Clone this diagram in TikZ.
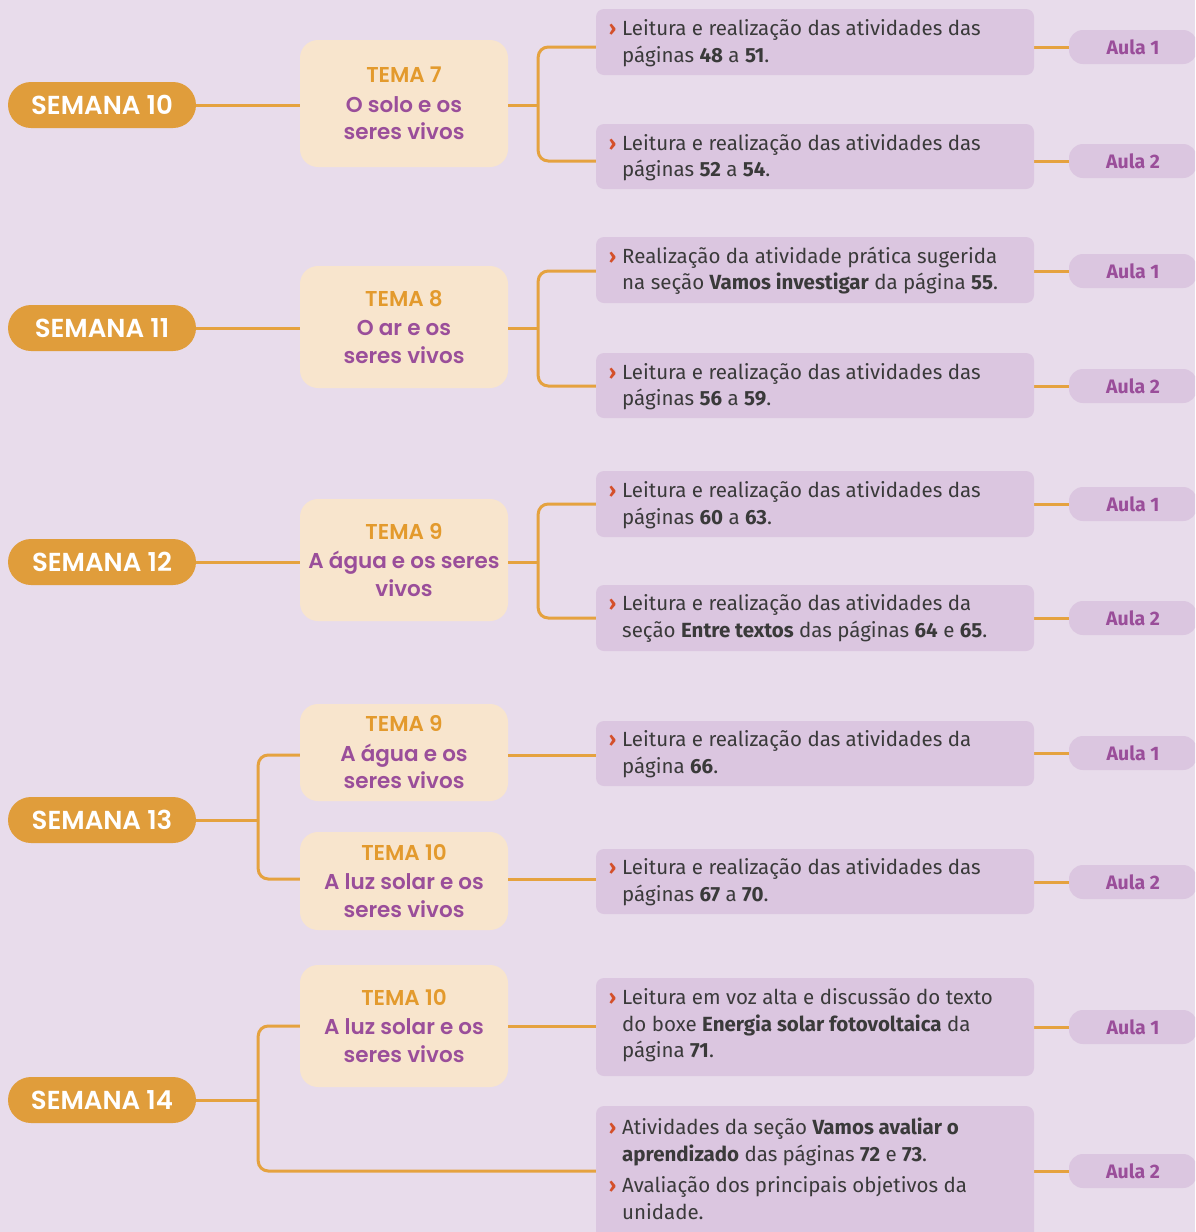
\documentclass[tikz,border=0pt]{standalone}
\usepackage{fontspec}
\setmainfont{Fira Sans}
\newfontfamily\popfont{Poppins}[BoldFont={Poppins SemiBold}]
\usetikzlibrary{calc}
\definecolor{bgc}{HTML}{E8DCEB}
\definecolor{boxc}{HTML}{DBC6E0}
\definecolor{temac}{HTML}{F8E5CD}
\definecolor{semc}{HTML}{E09D3B}
\definecolor{linec}{HTML}{E5A23F}
\definecolor{orangetxt}{HTML}{E39A2D}
\definecolor{purp}{HTML}{9A4E9A}
\definecolor{textc}{HTML}{3A3A3A}
\definecolor{bulc}{HTML}{D4502A}
\newcommand{\bul}{\llap{\textcolor{bulc}{\bfseries ›}\hspace{6pt}}}
\begin{document}
\begin{tikzpicture}[x=1pt,y=-1pt,
  semana/.style={fill=semc, rounded corners=23pt, minimum width=188pt, minimum height=46pt, inner sep=0pt, text=white, font=\popfont\bfseries\fontsize{26}{27}\selectfont},
  tema/.style={fill=temac, rounded corners=18pt, minimum width=208pt, inner sep=0pt, align=center, text=purp, font=\popfont\bfseries\fontsize{21.5}{27.5}\selectfont},
  actbox/.style={fill=boxc, rounded corners=8pt, minimum width=438pt, inner sep=0pt},
  acttxt/.style={anchor=west, inner sep=0pt, align=left, text=textc, font=\fontsize{20.5}{26.5}\selectfont},
  aula/.style={fill=boxc, rounded corners=14pt, minimum width=128pt, minimum height=34pt, inner sep=0pt, text=purp, font=\bfseries\fontsize{19.5}{20}\selectfont},
  conn/.style={draw=linec, line width=3pt},
  branch/.style={conn, rounded corners=10pt}]
\fill[bgc] (0,0) rectangle (1195,1232);
\clip (0,0) rectangle (1195,1232);

% Semana nodes
\node[semana] (s10) at (102,105) {SEMANA 10};
\node[semana] (s11) at (102,328) {SEMANA 11};
\node[semana] (s12) at (102,562) {SEMANA 12};
\node[semana] (s13) at (102,820) {SEMANA 13};
\node[semana] (s14) at (102,1100) {SEMANA 14};

% Tema nodes
\node[tema, minimum height=127pt] (t7) at (404,103.5) {\textcolor{orangetxt}{TEMA 7}\\[2pt]O solo e os\\seres vivos};
\node[tema, minimum height=122pt] (t8) at (404,327) {\textcolor{orangetxt}{TEMA 8}\\[2pt]O ar e os\\seres vivos};
\node[tema, minimum height=122pt] (t9a) at (404,560) {\textcolor{orangetxt}{TEMA 9}\\[2pt]A água e os seres\\vivos};
\node[tema, minimum height=97pt] (t9b) at (404,752.5) {\textcolor{orangetxt}{TEMA 9}\\[2pt]A água e os\\seres vivos};
\node[tema, minimum height=98pt] (t10a) at (404,881) {\textcolor{orangetxt}{TEMA 10}\\[2pt]A luz solar e os\\seres vivos};
\node[tema, minimum height=122pt] (t10b) at (404,1026) {\textcolor{orangetxt}{TEMA 10}\\[2pt]A luz solar e os\\seres vivos};

% Aula nodes
\node[aula] (a1) at (1133,47) {Aula 1};
\node[aula] (a2) at (1133,161) {Aula 2};
\node[aula] (a3) at (1133,271) {Aula 1};
\node[aula] (a4) at (1133,386) {Aula 2};
\node[aula] (a5) at (1133,504) {Aula 1};
\node[aula] (a6) at (1133,618) {Aula 2};
\node[aula] (a7) at (1133,753) {Aula 1};
\node[aula] (a8) at (1133,882) {Aula 2};
\node[aula] (a9) at (1133,1027) {Aula 1};
\node[aula] (a10) at (1133,1171) {Aula 2};

% Junction coordinates
\coordinate (j7) at ($(t7.east)+(30,0)$);
\coordinate (j8) at ($(t8.east)+(30,0)$);
\coordinate (j9) at ($(t9a.east)+(30,0)$);
\coordinate (j13) at ($(s13.east)+(62,0)$);
\coordinate (j14) at ($(s14.east)+(62,0)$);
\coordinate (bx) at (600,0);

% Connectors (drawn before activity boxes)
\draw[conn] (s10.east) -- (t7.west |- s10.east);
\draw[conn] (s11.east) -- (t8.west |- s11.east);
\draw[conn] (s12.east) -- (t9a.west |- s12.east);
\draw[conn] (t7.east |- s10.east) -- (j7 |- s10.east);
\draw[conn] (t8.east |- s11.east) -- (j8 |- s11.east);
\draw[conn] (t9a.east |- s12.east) -- (j9 |- s12.east);
\draw[branch] (bx |- a1) -| (j7) |- (bx |- a2);
\draw[branch] (bx |- a3) -| (j8) |- (bx |- a4);
\draw[branch] (bx |- a5) -| (j9) |- (bx |- a6);
\draw[conn] (s13.east) -- (j13);
\draw[branch] (t9b.west |- 0,755) -| (j13) |- (t10a.west |- 0,879);
\draw[conn] (t9b.east |- 0,755) -- (bx |- 0,755);
\draw[conn] (t10a.east |- 0,879) -- (bx |- 0,879);
\draw[conn] (s14.east) -- (j14);
\draw[branch] (t10b.west) -| (j14) |- (bx |- a10);
\draw[conn] (t10b.east) -- (bx |- t10b.east);
\foreach \i in {1,...,10} {\draw[conn] (1030,0 |- a\i) -- (a\i.west);}

% Activity boxes
\node[actbox, minimum height=66pt] (b1) at (815,42) {};
\node[actbox, minimum height=65pt] (b2) at (815,156.5) {};
\node[actbox, minimum height=66pt] (b3) at (815,270) {};
\node[actbox, minimum height=65pt] (b4) at (815,385.5) {};
\node[actbox, minimum height=66pt] (b5) at (815,504) {};
\node[actbox, minimum height=66pt] (b6) at (815,618) {};
\node[actbox, minimum height=65pt] (b7) at (815,753.5) {};
\node[actbox, minimum height=65pt] (b8) at (815,881.5) {};
\node[actbox, minimum height=98pt] (b9) at (815,1027) {};
\node[actbox, minimum height=140pt] (b10) at (815,1176) {};

% Activity texts
\node[acttxt] (x1) at (622,43) {\bul Leitura e realização das atividades das\\páginas \textbf{48} a \textbf{51}.};
\node[acttxt] (x2) at (622,157.5) {\bul Leitura e realização das atividades das\\páginas \textbf{52} a \textbf{54}.};
\node[acttxt] (x3) at (622,271) {\bul Realização da atividade prática sugerida\\na seção \textbf{Vamos investigar} da página \textbf{55}.};
\node[acttxt] (x4) at (622,386.5) {\bul Leitura e realização das atividades das\\páginas \textbf{56} a \textbf{59}.};
\node[acttxt] (x5) at (622,505) {\bul Leitura e realização das atividades das\\páginas \textbf{60} a \textbf{63}.};
\node[acttxt] (x6) at (622,618.5) {\bul Leitura e realização das atividades da\\seção \textbf{Entre textos} das páginas \textbf{64} e \textbf{65}.};
\node[acttxt] (x7) at (622,754) {\bul Leitura e realização das atividades da\\página \textbf{66}.};
\node[acttxt] (x8) at (622,882) {\bul Leitura e realização das atividades das\\páginas \textbf{67} a \textbf{70}.};
\node[acttxt] (x9) at (622,1025.5) {\bul Leitura em voz alta e discussão do texto\\do boxe \textbf{Energia solar fotovoltaica} da\\página \textbf{71}.};
\node[acttxt] (x10) at (622,1169) {\bul Atividades da seção \textbf{Vamos avaliar o}\\\textbf{aprendizado} das páginas \textbf{72} e \textbf{73}.\\[5pt]\bul Avaliação dos principais objetivos da\\unidade.};
\end{tikzpicture}
\end{document}
